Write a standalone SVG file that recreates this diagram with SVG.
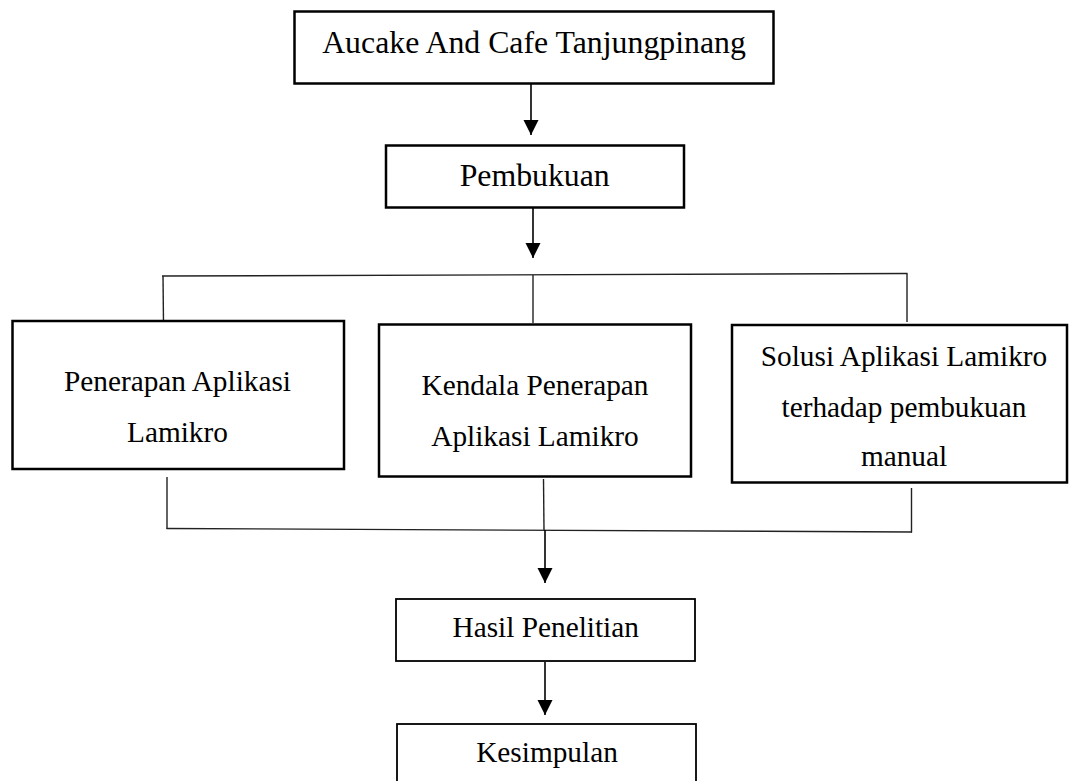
<svg xmlns="http://www.w3.org/2000/svg" width="1069" height="781" viewBox="0 0 1069 781">
<style>
.box{fill:#fff;stroke:#000;stroke-width:2.5}
.box2{fill:#fff;stroke:#000;stroke-width:1.8}
.t{font-family:"Liberation Serif","Times New Roman",serif;fill:#000;text-anchor:middle}
.big{font-size:31.8px}
.mid{font-size:29.3px}
.ln{fill:none;stroke:#222;stroke-width:1.4}
.ar{fill:none;stroke:#000;stroke-width:1.6}
</style>
<defs>
<marker id="ah" markerUnits="userSpaceOnUse" markerWidth="16" markerHeight="16" viewBox="0 0 16 16" refX="15" refY="7.5" orient="auto">
<path d="M0,0 L15,7.5 L0,15 z" fill="#000"/>
</marker>
</defs>
<rect width="1069" height="781" fill="#fff"/>
<g id="connectors">
<line class="ar" x1="531" y1="84" x2="531" y2="135" marker-end="url(#ah)"/>
<line class="ar" x1="533" y1="208" x2="533" y2="258" marker-end="url(#ah)"/>
<line class="ln" x1="162" y1="276" x2="907.5" y2="273.5"/>
<line class="ln" x1="163" y1="276" x2="163.5" y2="324"/>
<line class="ln" x1="533" y1="275" x2="533" y2="323"/>
<line class="ln" x1="907" y1="273.5" x2="907" y2="322"/>
<line class="ln" x1="167" y1="477" x2="167" y2="529"/>
<line class="ln" x1="543.5" y1="479" x2="544" y2="530"/>
<line class="ln" x1="911.5" y1="488" x2="911.5" y2="532.5"/>
<line class="ln" x1="166.5" y1="528.5" x2="912" y2="532"/>
<line class="ar" x1="545" y1="530" x2="545" y2="583" marker-end="url(#ah)"/>
<line class="ar" x1="545" y1="662" x2="545" y2="715" marker-end="url(#ah)"/>
</g>
<g id="node-aucake">
<rect class="box" x="294.5" y="11.5" width="479" height="72"/>
<text class="t big" x="534" y="52.5">Aucake And Cafe Tanjungpinang</text>
</g>
<g id="node-pembukuan">
<rect class="box" x="386" y="145.5" width="298" height="62"/>
<text class="t big" x="534.7" y="186">Pembukuan</text>
</g>
<g id="node-penerapan">
<rect class="box" x="12.5" y="321" width="331.5" height="148"/>
<text class="t mid" x="177.5" y="390.7">Penerapan Aplikasi</text>
<text class="t mid" x="177.5" y="441.7">Lamikro</text>
</g>
<g id="node-kendala">
<rect class="box" x="379" y="324.5" width="312" height="152"/>
<text class="t mid" x="535" y="395">Kendala Penerapan</text>
<text class="t mid" x="535" y="445.7">Aplikasi Lamikro</text>
</g>
<g id="node-solusi">
<rect class="box" x="732" y="325" width="335" height="157.5"/>
<text class="t mid" x="904" y="366">Solusi Aplikasi Lamikro</text>
<text class="t mid" x="904" y="416.7">terhadap pembukuan</text>
<text class="t mid" x="904" y="465.7">manual</text>
</g>
<g id="node-hasil">
<rect class="box2" x="396" y="599" width="299" height="62"/>
<text class="t mid" x="545.7" y="637">Hasil Penelitian</text>
</g>
<g id="node-kesimpulan">
<rect class="box2" x="397" y="724" width="299" height="70"/>
<text class="t mid" x="547" y="762.3">Kesimpulan</text>
</g>
</svg>
